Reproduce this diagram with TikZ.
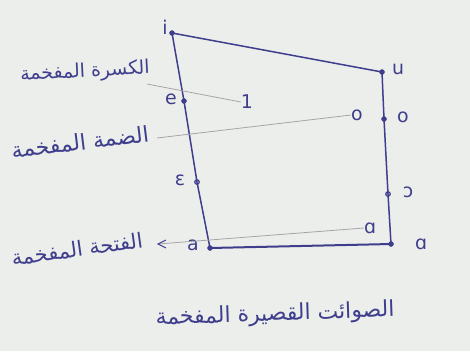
\documentclass[tikz,border=0pt]{standalone}
\usepackage{fontspec}
\setmainfont{DejaVu Sans}
\newfontfamily\arabicfont[Script=Arabic]{DejaVu Sans}
\TeXXeTstate=1
\definecolor{ink}{RGB}{62,62,140}
\definecolor{paper}{RGB}{236,238,236}
\definecolor{pencil}{RGB}{165,165,165}
\begin{document}
\begin{tikzpicture}[x=1bp,y=-1bp,
  edge/.style={draw=ink,line width=1.5bp},
  pt/.style={circle,fill=ink,draw=ink,inner sep=0pt,minimum size=5bp},
  opt/.style={circle,fill=paper,draw=ink,line width=1.2bp,inner sep=0pt,minimum size=4.5bp},
  sym/.style={text=ink,font=\fontsize{19}{19}\selectfont,inner sep=0pt},
  ar/.style={text=ink,inner sep=0pt},
  guide/.style={draw=pencil,line width=0.8bp}]
\useasboundingbox[fill=paper] (0,0) rectangle (470,351);
% corner and edge points
\node[pt] (i) at (172,33) {};
\node[pt] (u) at (382,72) {};
\node[pt] (e) at (184,101) {};
\node[pt] (o) at (384,119) {};
\node[opt] (E) at (197,182) {};
\node[opt] (O) at (388,194) {};
\node[pt] (a) at (210,248) {};
\node[pt] (A) at (391,244) {};
% quadrilateral
\draw[edge] (i.center) -- (u.center);
\draw[edge] (i.center) -- (e.center) -- (E.center) -- (a.center);
\draw[edge] (u.center) -- (o.center) -- (O.center) -- (A.center);
\draw[edge,line width=2bp] (a.center) -- (A.center);
% symbol labels
\node[sym] (li) at (165,27) {i};
\node[sym] (lu) at (398,69) {u};
\node[sym] (le) at (171,99) {e};
\node[sym] (lo) at (403,117) {o};
\node[sym] (lE) at (180,180) {ɛ};
\node[sym] (lO) at (408,192) {ɔ};
\node[sym] (la) at (193,245) {a};
\node[sym] (lA) at (421,244) {ɑ};
% inner symbols
\node[sym] (ki) at (247,102) {1};
\node[sym] (ko) at (357,115) {o};
\node[sym] (ka) at (370,228) {ɑ};
% Arabic labels
\node[ar,font=\arabicfont\fontsize{19}{19}\selectfont,rotate=3] (kasra) at (85,72) {\beginR الكسرة المفخمة\endR};
\node[ar,font=\arabicfont\fontsize{22}{22}\selectfont,rotate=7] (damma) at (80,142) {\beginR الضمة المفخمة\endR};
\node[ar,font=\arabicfont\fontsize{21}{21}\selectfont,rotate=8] (fatha) at (77,249) {\beginR الفتحة المفخمة\endR};
\node[ar,font=\arabicfont\fontsize{22}{22}\selectfont,rotate=2] (title) at (275,315) {\beginR الصوائت القصيرة المفخمة\endR};
% guide lines
\coordinate (kend) at (147,84);
\coordinate (dend) at (157,138);
\coordinate (fend) at (158,244);
\draw[guide] (kend) -- (ki.west);
\draw[guide] (dend) -- (ko.west);
\draw[guide] (ka.west) -- (fend);
\draw[ink,line width=1bp] ([shift={(8,-4)}]fend) -- (fend) -- ([shift={(8,4)}]fend);
\end{tikzpicture}
\end{document}
